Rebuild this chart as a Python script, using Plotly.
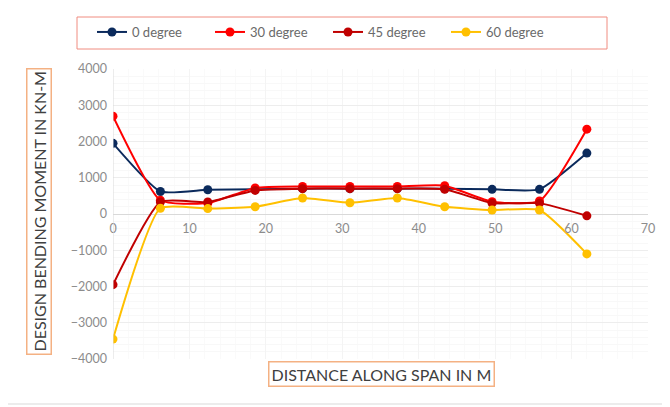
import plotly.graph_objects as go

# Data
distance = [0, 6.2, 12.4, 18.6, 24.8, 31, 37.2, 43.4, 49.6, 55.8, 62]
deg0 = [1950, 620, 670, 680, 700, 700, 700, 700, 680, 680, 1680]
deg30 = [2700, 380, 300, 720, 760, 760, 760, 780, 340, 360, 2340]
deg45 = [-1950, 330, 330, 650, 700, 700, 700, 680, 300, 300, -50]
deg60 = [-3450, 160, 150, 200, 440, 310, 440, 200, 110, 110, -1100]

series = [
    ("0 degree", deg0, "#0B2A5C"),
    ("30 degree", deg30, "#FF0000"),
    ("45 degree", deg45, "#C00000"),
    ("60 degree", deg60, "#FFC000"),
]

# page body has an 8px default margin -> figure offset
OFF = 8
W, H = 670 - OFF, 407 - OFF
L, R, T, B = 113 - OFF, 22, 69 - OFF, 48
pw = W - L - R
ph = H - T - B

def px2paper_x(px):
    return (px - OFF - L) / pw

def px2paper_y(py):
    return (H - B - (py - OFF)) / ph

fig = go.Figure()
for name, vals, col in series:
    fig.add_trace(go.Scatter(
        x=distance, y=vals, name=name, mode="lines+markers",
        line=dict(color=col, width=2, shape="spline", smoothing=0.5),
        marker=dict(color=col, size=9),
    ))

font = "Lato, Open Sans, sans-serif"
fig.update_layout(
    width=W, height=H,
    margin=dict(l=L, r=R, t=T, b=B, autoexpand=False),
    paper_bgcolor="white", plot_bgcolor="white",
    font=dict(family=font, size=12, color="#7F7F7F"),
    showlegend=True,
    legend=dict(
        orientation="h", x=px2paper_x(92), xanchor="left",
        y=px2paper_y(17), yanchor="top",
        bgcolor="rgba(0,0,0,0)", borderwidth=0,
        font=dict(size=13, color="#6A6A6A", family=font),
        entrywidth=73, entrywidthmode="pixels",
        itemwidth=30,
    ),
    xaxis=dict(
        range=[0, 70], dtick=10, tick0=0,
        anchor="free", position=0.5,
        showgrid=True, gridcolor="#F4F4F4",
        minor=dict(dtick=2, showgrid=True, gridcolor="#FAFAFA"),
        showline=False, zeroline=False,
        ticks="", ticklabelstandoff=5,
        tickfont=dict(size=12.5, color="#8C8C8C"),
    ),
    yaxis=dict(
        range=[-4000, 4000], dtick=1000,
        showgrid=True, gridcolor="#EDEDED",
        minor=dict(dtick=200, showgrid=True, gridcolor="#F8F8F8"),
        zeroline=True, zerolinecolor="#D9D9D9", zerolinewidth=1,
        showline=False, ticks="",
        tickfont=dict(size=12.5, color="#8C8C8C"),
        ticklabelstandoff=5,
    ),
    shapes=[
        dict(type="line", xref="x", yref="paper", x0=0, x1=0, y0=0, y1=1,
             line=dict(color="#D9D9D9", width=1)),
        dict(type="rect", xref="paper", yref="paper",
             x0=px2paper_x(6), x1=px2paper_x(665),
             y0=px2paper_y(404), y1=px2paper_y(6),
             line=dict(color="#D9D9D9", width=1), layer="below"),
        # legend frame
        dict(type="rect", xref="paper", yref="paper",
             x0=px2paper_x(77), x1=px2paper_x(607),
             y0=px2paper_y(49), y1=px2paper_y(17),
             line=dict(color="#F08C80", width=1), layer="below"),
    ],
    annotations=[
        dict(text="DESIGN BENDING MOMENT IN KN-M", textangle=-90,
             xref="paper", yref="paper", x=px2paper_x(39), y=px2paper_y(212),
             xanchor="center", yanchor="middle", showarrow=False,
             font=dict(size=16, color="#404040", family=font),
             bordercolor="#F4B183", borderwidth=1.5, borderpad=2),
        dict(text="DISTANCE ALONG SPAN IN M",
             xref="paper", yref="paper", x=px2paper_x(381), y=px2paper_y(374),
             xanchor="center", yanchor="middle", showarrow=False,
             font=dict(size=16, color="#404040", family=font),
             bordercolor="#F4B183", borderwidth=1.5, borderpad=2),
    ],
)

fig.write_html("out.html")
